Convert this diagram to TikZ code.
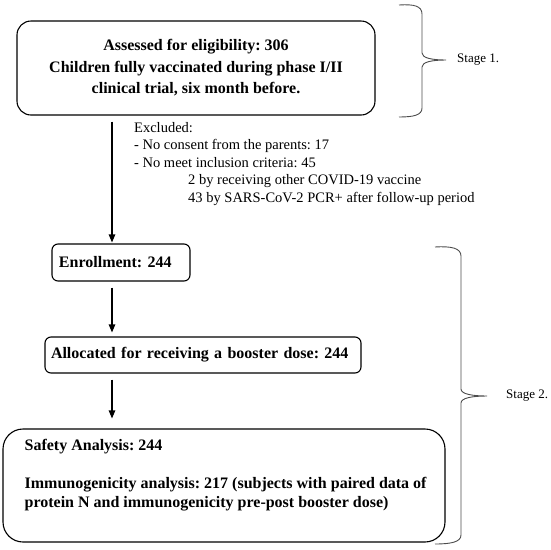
\documentclass[tikz,border=0pt]{standalone}
\usepackage{fontspec}
\setmainfont{Liberation Serif}
\usetikzlibrary{arrows.meta,calc}
\begin{document}
\begin{tikzpicture}[x=1pt,y=-1pt,
  bx/.style={draw, line width=1.1pt, rounded corners=#1},
  boldtxt/.style={font=\fontsize{16}{21.5}\selectfont\bfseries\frenchspacing},
  regtxt/.style={font=\fontsize{14.5}{17.5}\selectfont\frenchspacing},
  stagetxt/.style={font=\fontsize{13}{15}\selectfont\frenchspacing},
  arr/.style={draw, line width=1.1pt, -{Triangle[length=8pt,width=6.5pt]}},
  bracepath/.style={draw, line width=0.9pt, black!70}]
\useasboundingbox (0,0) rectangle (550,550);
\coordinate (col) at (112,0);

\node[bx=14, boldtxt, minimum width=358, minimum height=94, align=center, inner sep=0] (assess) at (196,68)
  {Assessed for eligibility: 306\\Children fully vaccinated during phase I/II\\clinical trial, six month before.};

\node[regtxt, anchor=north west, align=left, inner sep=0] (excl) at (134,122)
  {Excluded:\\- No consent from the parents: 17\\- No meet inclusion criteria: 45\\
   \hspace*{54pt}2 by receiving other COVID-19 vaccine\\
   \hspace*{54pt}43 by SARS-CoV-2 PCR+ after follow-up period};

\node[bx=6, boldtxt, minimum width=138, minimum height=37, text width=124, inner xsep=7, inner ysep=0, align=left] (enroll) at (121,262.5)
  {Enrollment: 244};

\node[bx=6, boldtxt, minimum width=316, minimum height=36, text width=304, inner xsep=6, inner ysep=0, align=left] (alloc) at (203,355)
  {\mbox{Allocated for receiving a booster dose: 244}};

\node[bx=20, minimum width=442, minimum height=113, inner sep=0] (safety) at (224,485.5) {};
\node[anchor=north west, align=left, inner sep=0, font=\fontsize{16}{19}\selectfont\bfseries\frenchspacing] (safetytxt) at ([xshift=22,yshift=-11]safety.north west)
  {Safety Analysis: 244\\[19pt]Immunogenicity analysis: 217 (subjects with paired data of\\protein N and immunogenicity pre-post booster dose)};

\draw[arr, shorten <=6pt, shorten >=1pt] (assess.south -| col) -- (enroll.north -| col);
\draw[arr, shorten <=6pt, shorten >=4pt] (enroll.south -| col) -- (alloc.north -| col);
\draw[arr, shorten <=6pt, shorten >=10pt] (alloc.south -| col) -- (safety.north -| col);

% Stage 1 brace
\draw[bracepath] (399,5) .. controls (414,4) and (422,6) .. (422,14) -- (422,53)
  .. controls (422,58) and (432,60) .. (446,60)
  .. controls (432,60) and (422,62) .. (422,67) -- (422,108)
  .. controls (422,115) and (414,117) .. (399,117);
\node[stagetxt, anchor=west, inner sep=0] (stage1) at (457,60) {Stage 1.};

% Stage 2 brace
\draw[bracepath] (435,247) .. controls (451,246) and (461,248) .. (461,256) -- (461,389)
  .. controls (461,394) and (472,396) .. (487,396)
  .. controls (472,396) and (461,398) .. (461,403) -- (461,535)
  .. controls (461,542) and (451,544) .. (435,544);
\node[stagetxt, anchor=west, inner sep=0] (stage2) at (506,396) {Stage 2.};
\end{tikzpicture}
\end{document}
